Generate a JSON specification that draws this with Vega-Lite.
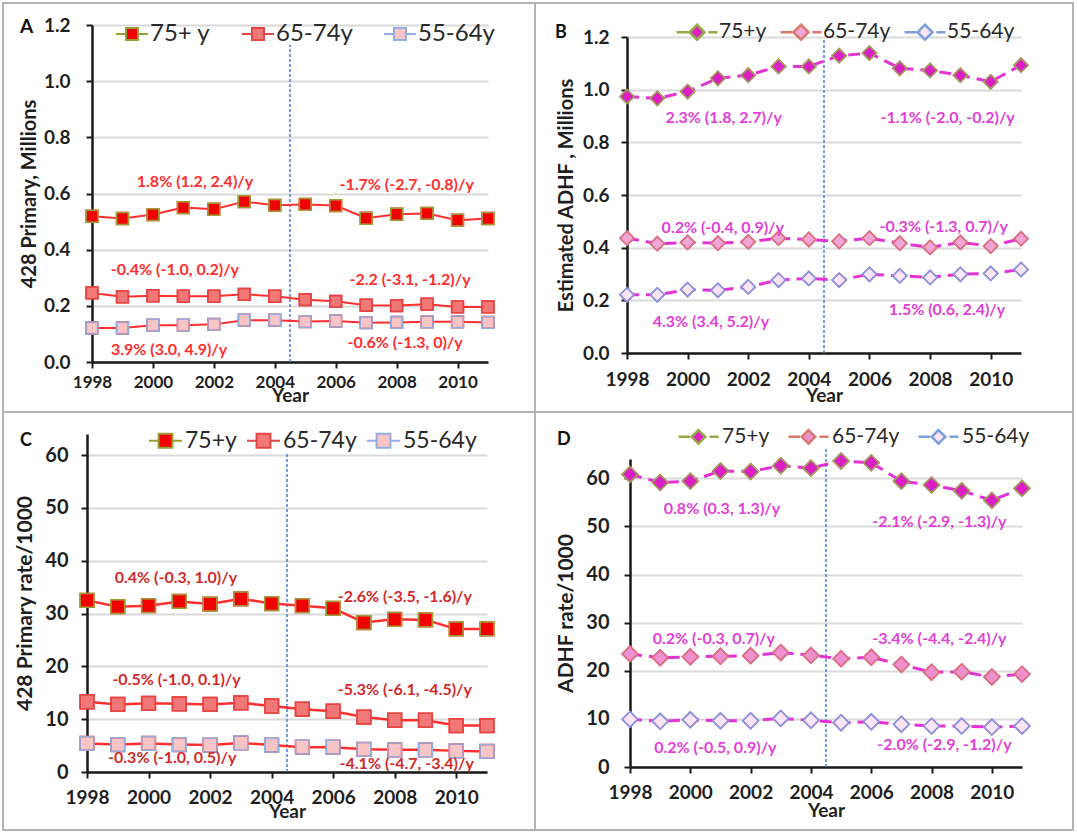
{
"$schema": "https://vega.github.io/schema/vega-lite/v6.json",
"autosize": {"type": "none"},
"padding": {"left": 3, "top": 3, "right": 1074, "bottom": 831},
"background": "white",
"bounds": "flush",
"align": "each",
"spacing": 0,
"columns": 2,
"resolve": {"scale": {"fill": "independent", "stroke": "independent"}, "legend": {"fill": "independent", "stroke": "independent"}},
"datasets": {
"A": [
{"year":1998,"series":"75+ y","value":0.519},{"year":1999,"series":"75+ y","value":0.511},{"year":2000,"series":"75+ y","value":0.525},{"year":2001,"series":"75+ y","value":0.55},{"year":2002,"series":"75+ y","value":0.544},{"year":2003,"series":"75+ y","value":0.571},{"year":2004,"series":"75+ y","value":0.558},{"year":2005,"series":"75+ y","value":0.561},{"year":2006,"series":"75+ y","value":0.557},{"year":2007,"series":"75+ y","value":0.512},{"year":2008,"series":"75+ y","value":0.526},{"year":2009,"series":"75+ y","value":0.529},{"year":2010,"series":"75+ y","value":0.505},{"year":2011,"series":"75+ y","value":0.511},
{"year":1998,"series":"65-74y","value":0.246},{"year":1999,"series":"65-74y","value":0.232},{"year":2000,"series":"65-74y","value":0.236},{"year":2001,"series":"65-74y","value":0.234},{"year":2002,"series":"65-74y","value":0.234},{"year":2003,"series":"65-74y","value":0.241},{"year":2004,"series":"65-74y","value":0.234},{"year":2005,"series":"65-74y","value":0.222},{"year":2006,"series":"65-74y","value":0.216},{"year":2007,"series":"65-74y","value":0.202},{"year":2008,"series":"65-74y","value":0.201},{"year":2009,"series":"65-74y","value":0.206},{"year":2010,"series":"65-74y","value":0.196},{"year":2011,"series":"65-74y","value":0.196},
{"year":1998,"series":"55-64y","value":0.121},{"year":1999,"series":"55-64y","value":0.121},{"year":2000,"series":"55-64y","value":0.131},{"year":2001,"series":"55-64y","value":0.131},{"year":2002,"series":"55-64y","value":0.134},{"year":2003,"series":"55-64y","value":0.149},{"year":2004,"series":"55-64y","value":0.149},{"year":2005,"series":"55-64y","value":0.144},{"year":2006,"series":"55-64y","value":0.146},{"year":2007,"series":"55-64y","value":0.140},{"year":2008,"series":"55-64y","value":0.141},{"year":2009,"series":"55-64y","value":0.143},{"year":2010,"series":"55-64y","value":0.143},{"year":2011,"series":"55-64y","value":0.141}
],
"B": [
{"year":1998,"series":"75+y","value":0.974},{"year":1999,"series":"75+y","value":0.967},{"year":2000,"series":"75+y","value":0.993},{"year":2001,"series":"75+y","value":1.043},{"year":2002,"series":"75+y","value":1.055},{"year":2003,"series":"75+y","value":1.088},{"year":2004,"series":"75+y","value":1.088},{"year":2005,"series":"75+y","value":1.129},{"year":2006,"series":"75+y","value":1.139},{"year":2007,"series":"75+y","value":1.081},{"year":2008,"series":"75+y","value":1.073},{"year":2009,"series":"75+y","value":1.055},{"year":2010,"series":"75+y","value":1.030},{"year":2011,"series":"75+y","value":1.093},
{"year":1998,"series":"65-74y","value":0.436},{"year":1999,"series":"65-74y","value":0.415},{"year":2000,"series":"65-74y","value":0.420},{"year":2001,"series":"65-74y","value":0.417},{"year":2002,"series":"65-74y","value":0.422},{"year":2003,"series":"65-74y","value":0.436},{"year":2004,"series":"65-74y","value":0.431},{"year":2005,"series":"65-74y","value":0.424},{"year":2006,"series":"65-74y","value":0.436},{"year":2007,"series":"65-74y","value":0.417},{"year":2008,"series":"65-74y","value":0.401},{"year":2009,"series":"65-74y","value":0.420},{"year":2010,"series":"65-74y","value":0.406},{"year":2011,"series":"65-74y","value":0.434},
{"year":1998,"series":"55-64y","value":0.221},{"year":1999,"series":"55-64y","value":0.221},{"year":2000,"series":"55-64y","value":0.241},{"year":2001,"series":"55-64y","value":0.238},{"year":2002,"series":"55-64y","value":0.251},{"year":2003,"series":"55-64y","value":0.277},{"year":2004,"series":"55-64y","value":0.283},{"year":2005,"series":"55-64y","value":0.277},{"year":2006,"series":"55-64y","value":0.299},{"year":2007,"series":"55-64y","value":0.293},{"year":2008,"series":"55-64y","value":0.287},{"year":2009,"series":"55-64y","value":0.299},{"year":2010,"series":"55-64y","value":0.302},{"year":2011,"series":"55-64y","value":0.317}
],
"C": [
{"year":1998,"series":"75+y","value":32.5},{"year":1999,"series":"75+y","value":31.3},{"year":2000,"series":"75+y","value":31.5},{"year":2001,"series":"75+y","value":32.3},{"year":2002,"series":"75+y","value":31.8},{"year":2003,"series":"75+y","value":32.8},{"year":2004,"series":"75+y","value":31.9},{"year":2005,"series":"75+y","value":31.5},{"year":2006,"series":"75+y","value":31.0},{"year":2007,"series":"75+y","value":28.3},{"year":2008,"series":"75+y","value":28.9},{"year":2009,"series":"75+y","value":28.8},{"year":2010,"series":"75+y","value":27.1},{"year":2011,"series":"75+y","value":27.1},
{"year":1998,"series":"65-74y","value":13.3},{"year":1999,"series":"65-74y","value":12.8},{"year":2000,"series":"65-74y","value":13.0},{"year":2001,"series":"65-74y","value":12.9},{"year":2002,"series":"65-74y","value":12.8},{"year":2003,"series":"65-74y","value":13.1},{"year":2004,"series":"65-74y","value":12.5},{"year":2005,"series":"65-74y","value":11.9},{"year":2006,"series":"65-74y","value":11.5},{"year":2007,"series":"65-74y","value":10.4},{"year":2008,"series":"65-74y","value":9.8},{"year":2009,"series":"65-74y","value":9.8},{"year":2010,"series":"65-74y","value":8.8},{"year":2011,"series":"65-74y","value":8.8},
{"year":1998,"series":"55-64y","value":5.4},{"year":1999,"series":"55-64y","value":5.2},{"year":2000,"series":"55-64y","value":5.4},{"year":2001,"series":"55-64y","value":5.2},{"year":2002,"series":"55-64y","value":5.1},{"year":2003,"series":"55-64y","value":5.5},{"year":2004,"series":"55-64y","value":5.1},{"year":2005,"series":"55-64y","value":4.7},{"year":2006,"series":"55-64y","value":4.7},{"year":2007,"series":"55-64y","value":4.3},{"year":2008,"series":"55-64y","value":4.2},{"year":2009,"series":"55-64y","value":4.2},{"year":2010,"series":"55-64y","value":4.0},{"year":2011,"series":"55-64y","value":3.9}
],
"D": [
{"year":1998,"series":"75+y","value":60.8},{"year":1999,"series":"75+y","value":59.1},{"year":2000,"series":"75+y","value":59.4},{"year":2001,"series":"75+y","value":61.5},{"year":2002,"series":"75+y","value":61.4},{"year":2003,"series":"75+y","value":62.6},{"year":2004,"series":"75+y","value":62.1},{"year":2005,"series":"75+y","value":63.6},{"year":2006,"series":"75+y","value":63.2},{"year":2007,"series":"75+y","value":59.4},{"year":2008,"series":"75+y","value":58.6},{"year":2009,"series":"75+y","value":57.4},{"year":2010,"series":"75+y","value":55.4},{"year":2011,"series":"75+y","value":57.9},
{"year":1998,"series":"65-74y","value":23.5},{"year":1999,"series":"65-74y","value":22.7},{"year":2000,"series":"65-74y","value":22.9},{"year":2001,"series":"65-74y","value":23.0},{"year":2002,"series":"65-74y","value":23.1},{"year":2003,"series":"65-74y","value":23.8},{"year":2004,"series":"65-74y","value":23.2},{"year":2005,"series":"65-74y","value":22.5},{"year":2006,"series":"65-74y","value":22.8},{"year":2007,"series":"65-74y","value":21.3},{"year":2008,"series":"65-74y","value":19.7},{"year":2009,"series":"65-74y","value":19.8},{"year":2010,"series":"65-74y","value":18.7},{"year":2011,"series":"65-74y","value":19.3},
{"year":1998,"series":"55-64y","value":9.9},{"year":1999,"series":"55-64y","value":9.5},{"year":2000,"series":"55-64y","value":9.8},{"year":2001,"series":"55-64y","value":9.6},{"year":2002,"series":"55-64y","value":9.6},{"year":2003,"series":"55-64y","value":10.1},{"year":2004,"series":"55-64y","value":9.7},{"year":2005,"series":"55-64y","value":9.2},{"year":2006,"series":"55-64y","value":9.4},{"year":2007,"series":"55-64y","value":8.9},{"year":2008,"series":"55-64y","value":8.5},{"year":2009,"series":"55-64y","value":8.5},{"year":2010,"series":"55-64y","value":8.3},{"year":2011,"series":"55-64y","value":8.5}
],
"annA": [
{"year":2001.38,"value":0.641,"label":"1.8% (1.2, 2.4)/y"},
{"year":2008.33,"value":0.63,"label":"-1.7% (-2.7, -0.8)/y"},
{"year":2000.72,"value":0.328,"label":"-0.4% (-1.0, 0.2)/y"},
{"year":2008.44,"value":0.292,"label":"-2.2 (-3.1, -1.2)/y"},
{"year":2000.53,"value":0.043,"label":"3.9% (3.0, 4.9)/y"},
{"year":2008.28,"value":0.067,"label":"-0.6% (-1.3, 0)/y"}
],
"annB": [
{"year":2001.19,"value":0.891,"label":"2.3% (1.8, 2.7)/y"},
{"year":2008.58,"value":0.892,"label":"-1.1% (-2.0, -0.2)/y"},
{"year":2001.16,"value":0.474,"label":"0.2% (-0.4, 0.9)/y"},
{"year":2008.45,"value":0.48,"label":"-0.3% (-1.3, 0.7)/y"},
{"year":2000.77,"value":0.119,"label":"4.3% (3.4, 5.2)/y"},
{"year":2008.56,"value":0.163,"label":"1.5% (0.6, 2.4)/y"}
],
"annC": [
{"year":2000.89,"value":36.7,"label":"0.4% (-0.3, 1.0)/y"},
{"year":2008.33,"value":33.2,"label":"-2.6% (-3.5, -1.6)/y"},
{"year":2000.91,"value":17.4,"label":"-0.5% (-1.0, 0.1)/y"},
{"year":2008.33,"value":15.5,"label":"-5.3% (-6.1, -4.5)/y"},
{"year":2000.77,"value":2.6,"label":"-0.3% (-1.0, 0.5)/y"},
{"year":2008.39,"value":1.6,"label":"-4.1% (-4.7, -3.4)/y"}
],
"annD": [
{"year":2001.05,"value":53.7,"label":"0.8% (0.3, 1.3)/y"},
{"year":2008.26,"value":50.9,"label":"-2.1% (-2.9, -1.3)/y"},
{"year":2000.78,"value":26.7,"label":"0.2% (-0.3, 0.7)/y"},
{"year":2008.26,"value":26.6,"label":"-3.4% (-4.4, -2.4)/y"},
{"year":2000.83,"value":3.9,"label":"0.2% (-0.5, 0.9)/y"},
{"year":2008.43,"value":4.6,"label":"-2.0% (-2.9, -1.2)/y"}
]
},
"concat": [
{
"width": 532, "height": 409,
"title": {"text": "A", "anchor": "start", "frame": "group", "offset": 0, "dx": 17, "dy": 49, "baseline": "alphabetic", "fontSize": 19},
"encoding": {
"x": {"field": "year", "type": "quantitative", "scale": {"domain": [1998, 2011], "range": [89, 485], "nice": false, "zero": false},
"axis": {"title": "Year", "values": [1998, 2000, 2002, 2004, 2006, 2008, 2010], "format": "d", "grid": false, "offset": -50, "labelFontSize": 17, "labelPadding": 6, "titleFontSize": 19, "titlePadding": -4}},
"y": {"field": "value", "type": "quantitative", "scale": {"domain": [0, 1.2], "range": [359, 22], "nice": false},
"axis": {"title": "428 Primary, Millions", "values": [0, 0.2, 0.4, 0.6, 0.8, 1, 1.2], "format": ".1f", "offset": -89, "labelFontSize": 19, "labelPadding": 16, "titleFontSize": 20, "titlePadding": 4}}
},
"layer": [
{"data": {"values": [{"year": 2004.5, "value": 0, "top": 1.13}]}, "mark": {"type": "rule", "color": "#4a7fd4", "strokeWidth": 1.5, "strokeDash": [3, 2]}, "encoding": {"y2": {"field": "top"}}},
{"data": {"name": "A"}, "mark": {"type": "line", "color": "#ff2f2f", "strokeWidth": 2}, "encoding": {"detail": {"field": "series"}}},
{"data": {"name": "A"}, "mark": {"type": "point", "shape": "square", "filled": true, "size": 140, "stroke": "#ff2f2f", "strokeWidth": 1.5, "opacity": 1},
"encoding": {"fill": {"field": "series", "type": "nominal", "scale": {"domain": ["75+ y", "65-74y", "55-64y"], "range": ["#f00000", "#f27777", "#f9c4c6"]},
"legend": {"orient": "none", "legendX": 112, "legendY": 14, "direction": "horizontal", "title": null, "symbolType": "M-1,0H-0.375M0.375,0H1M-0.375,-0.375H0.375V0.375H-0.375Z", "symbolSize": 1024, "symbolStrokeColor": "#ff2f2f", "symbolStrokeWidth": 2, "labelFontSize": 24, "labelOffset": 1, "columnPadding": 27,
"encode": {"symbols": {"update": {"stroke": {"value": "#ff2f2f"}, "strokeWidth": {"value": 2}}}}}}}},
{"data": {"name": "A"}, "transform": [{"calculate": "datum.series", "as": "edge"}], "mark": {"type": "point", "shape": "square", "filled": false, "size": 140, "strokeWidth": 1.5, "opacity": 1},
"encoding": {"stroke": {"field": "edge", "type": "nominal", "scale": {"domain": ["75+ y", "65-74y", "55-64y"], "range": ["#9c9c34", "#e04848", "#93aee0"]}, "legend": null}}},
{"data": {"name": "annA"}, "mark": {"type": "text", "fontWeight": "bold", "fontSize": 16, "color": "#ff2e2e"}, "encoding": {"text": {"field": "label"}}}
]
},
{
"width": 538, "height": 409,
"title": {"text": "B", "anchor": "start", "frame": "group", "offset": 0, "dx": 20, "dy": 53, "baseline": "alphabetic", "fontSize": 18},
"encoding": {
"x": {"field": "year", "type": "quantitative", "scale": {"domain": [1998, 2011], "range": [92, 486], "nice": false, "zero": false},
"axis": {"title": "Year", "values": [1998, 2000, 2002, 2004, 2006, 2008, 2010], "format": "d", "grid": false, "offset": -59, "labelFontSize": 19, "labelPadding": 11, "titleFontSize": 19, "titlePadding": -3}},
"y": {"field": "value", "type": "quantitative", "scale": {"domain": [0, 1.2], "range": [350, 34], "nice": false},
"axis": {"title": "Estimated ADHF , Millions", "values": [0, 0.2, 0.4, 0.6, 0.8, 1, 1.2], "format": ".1f", "offset": -92, "labelFontSize": 19, "labelPadding": 12, "titleFontSize": 20, "titlePadding": 6}}
},
"layer": [
{"data": {"values": [{"year": 2004.5, "value": 0, "top": 1.19}]}, "mark": {"type": "rule", "color": "#4a7fd4", "strokeWidth": 1.5, "strokeDash": [3, 2]}, "encoding": {"y2": {"field": "top"}}},
{"data": {"name": "B"}, "mark": {"type": "line", "color": "#e533d2", "strokeWidth": 3, "strokeDash": [12, 7]}, "encoding": {"detail": {"field": "series"}}},
{"data": {"name": "B"}, "mark": {"type": "point", "shape": "diamond", "filled": true, "size": 200, "stroke": "#e533d2", "strokeWidth": 1.5, "opacity": 1},
"encoding": {"fill": {"field": "series", "type": "nominal", "scale": {"domain": ["75+y", "65-74y", "55-64y"], "range": ["#db1fc4", "#f2a6d8", "#fbe5f4"]},
"legend": {"orient": "none", "legendX": 140, "legendY": 7, "direction": "horizontal", "title": null, "symbolType": "M-1,0H-0.42M0.55,0H1M0,-0.366L0.366,0L0,0.366L-0.366,0Z", "symbolSize": 1681, "symbolStrokeColor": "#e533d2", "symbolStrokeWidth": 2.5, "labelFontSize": 21, "labelOffset": 0, "columnPadding": 8,
"encode": {"symbols": {"update": {"stroke": {"value": "#e533d2"}, "strokeWidth": {"value": 2.5}}}}}}}},
{"data": {"name": "B"}, "transform": [{"calculate": "datum.series", "as": "edge"}], "mark": {"type": "point", "shape": "diamond", "filled": false, "size": 200, "strokeWidth": 1.5, "opacity": 1},
"encoding": {"stroke": {"field": "edge", "type": "nominal", "scale": {"domain": ["75+y", "65-74y", "55-64y"], "range": ["#98a848", "#d87a6e", "#7aa0dc"]}, "legend": null}}},
{"data": {"name": "annB"}, "mark": {"type": "text", "fontWeight": "bold", "fontSize": 16, "color": "#e23fd6"}, "encoding": {"text": {"field": "label"}}}
]
},
{
"width": 532, "height": 418,
"title": {"text": "C", "anchor": "start", "frame": "group", "offset": 0, "dx": 17, "dy": 52, "baseline": "alphabetic", "fontSize": 18},
"encoding": {
"x": {"field": "year", "type": "quantitative", "scale": {"domain": [1998, 2011], "range": [84, 484], "nice": false, "zero": false},
"axis": {"title": "Year", "values": [1998, 2000, 2002, 2004, 2006, 2008, 2010], "format": "d", "grid": false, "offset": -58, "labelFontSize": 19, "labelPadding": 10, "titleFontSize": 19, "titlePadding": -5}},
"y": {"field": "value", "type": "quantitative", "scale": {"domain": [0, 64], "range": [360, 22], "nice": false},
"axis": {"title": "428 Primary rate/1000", "values": [0, 10, 20, 30, 40, 50, 60], "format": "d", "offset": -84, "labelFontSize": 20, "labelPadding": 13, "titleFontSize": 21, "titlePadding": 9}}
},
"layer": [
{"data": {"values": [{"year": 2004.5, "value": 0, "top": 60.6}]}, "mark": {"type": "rule", "color": "#4a7fd4", "strokeWidth": 1.5, "strokeDash": [3, 2]}, "encoding": {"y2": {"field": "top"}}},
{"data": {"name": "C"}, "mark": {"type": "line", "color": "#ff2f2f", "strokeWidth": 2.5}, "encoding": {"detail": {"field": "series"}}},
{"data": {"name": "C"}, "mark": {"type": "point", "shape": "square", "filled": true, "size": 190, "stroke": "#ff2f2f", "strokeWidth": 1.5, "opacity": 1},
"encoding": {"fill": {"field": "series", "type": "nominal", "scale": {"domain": ["75+y", "65-74y", "55-64y"], "range": ["#f00000", "#f27777", "#f9c4c6"]},
"legend": {"orient": "none", "legendX": 145, "legendY": 11, "direction": "horizontal", "title": null, "symbolType": "M-1,0H-0.42M0.42,0H1M-0.42,-0.42H0.42V0.42H-0.42Z", "symbolSize": 1089, "symbolStrokeColor": "#ff2f2f", "symbolStrokeWidth": 2, "labelFontSize": 23, "labelOffset": 2, "columnPadding": 6,
"encode": {"symbols": {"update": {"stroke": {"value": "#ff2f2f"}, "strokeWidth": {"value": 2}}}}}}}},
{"data": {"name": "C"}, "transform": [{"calculate": "datum.series", "as": "edge"}], "mark": {"type": "point", "shape": "square", "filled": false, "size": 190, "strokeWidth": 1.5, "opacity": 1},
"encoding": {"stroke": {"field": "edge", "type": "nominal", "scale": {"domain": ["75+y", "65-74y", "55-64y"], "range": ["#9c9c34", "#e04848", "#93aee0"]}, "legend": null}}},
{"data": {"name": "annC"}, "mark": {"type": "text", "fontWeight": "bold", "fontSize": 16, "color": "#d02a2a"}, "encoding": {"text": {"field": "label"}}}
]
},
{
"width": 538, "height": 418,
"title": {"text": "D", "anchor": "start", "frame": "group", "offset": 0, "dx": 22, "dy": 51, "baseline": "alphabetic", "fontSize": 18},
"encoding": {
"x": {"field": "year", "type": "quantitative", "scale": {"domain": [1998, 2011], "range": [95, 487], "nice": false, "zero": false},
"axis": {"title": "Year", "values": [1998, 2000, 2002, 2004, 2006, 2008, 2010], "format": "d", "grid": false, "offset": -63, "labelFontSize": 19, "labelPadding": 10, "titleFontSize": 19, "titlePadding": -1}},
"y": {"field": "value", "type": "quantitative", "scale": {"domain": [0, 64], "range": [355, 47], "nice": false},
"axis": {"title": "ADHF rate/1000", "values": [0, 10, 20, 30, 40, 50, 60], "format": "d", "offset": -95, "labelFontSize": 20, "labelPadding": 15, "titleFontSize": 21, "titlePadding": 9}}
},
"layer": [
{"data": {"values": [{"year": 2004.5, "value": 0, "top": 66.5}]}, "mark": {"type": "rule", "color": "#4a7fd4", "strokeWidth": 1.5, "strokeDash": [3, 2]}, "encoding": {"y2": {"field": "top"}}},
{"data": {"name": "D"}, "mark": {"type": "line", "color": "#e533d2", "strokeWidth": 3, "strokeDash": [12, 7]}, "encoding": {"detail": {"field": "series"}}},
{"data": {"name": "D"}, "mark": {"type": "point", "shape": "diamond", "filled": true, "size": 250, "stroke": "#e533d2", "strokeWidth": 1.5, "opacity": 1},
"encoding": {"fill": {"field": "series", "type": "nominal", "scale": {"domain": ["75+y", "65-74y", "55-64y"], "range": ["#db1fc4", "#ee8fd0", "#fbe5f4"]},
"legend": {"orient": "none", "legendX": 142, "legendY": 3, "direction": "horizontal", "title": null, "symbolType": "M-1,0H-0.42M0.55,0H1M0,-0.34L0.34,0L0,0.34L-0.34,0Z", "symbolSize": 1600, "symbolStrokeColor": "#e533d2", "symbolStrokeWidth": 2.5, "labelFontSize": 21, "labelOffset": 2, "columnPadding": 13,
"encode": {"symbols": {"update": {"stroke": {"value": "#e533d2"}, "strokeWidth": {"value": 2.5}}}}}}}},
{"data": {"name": "D"}, "transform": [{"calculate": "datum.series", "as": "edge"}], "mark": {"type": "point", "shape": "diamond", "filled": false, "size": 250, "strokeWidth": 1.5, "opacity": 1},
"encoding": {"stroke": {"field": "edge", "type": "nominal", "scale": {"domain": ["75+y", "65-74y", "55-64y"], "range": ["#98a848", "#d87a6e", "#7aa0dc"]}, "legend": null}}},
{"data": {"name": "annD"}, "mark": {"type": "text", "fontWeight": "bold", "fontSize": 16, "color": "#e23fd6"}, "encoding": {"text": {"field": "label"}}}
]
}
],
"config": {
"font": "Lato",
"view": {"stroke": "#b3b3b3", "strokeWidth": 2},
"axis": {"domainColor": "#1a1a1a", "domainWidth": 2.5, "tickColor": "#1a1a1a", "tickWidth": 2, "tickSize": 6, "labelFont": "Lato", "labelFontWeight": "bold", "labelColor": "#1f1f1f", "titleFont": "Lato", "titleFontWeight": "bold", "titleColor": "#1f1f1f", "gridColor": "#dadada", "gridWidth": 2, "labelFlush": false, "labelOverlap": false},
"legend": {"labelFont": "Lato", "labelColor": "#2a2a2a", "padding": 0, "symbolOpacity": 1},
"title": {"font": "Lato", "fontWeight": "bold", "color": "#111111"},
"text": {"font": "Lato"}
}
}
